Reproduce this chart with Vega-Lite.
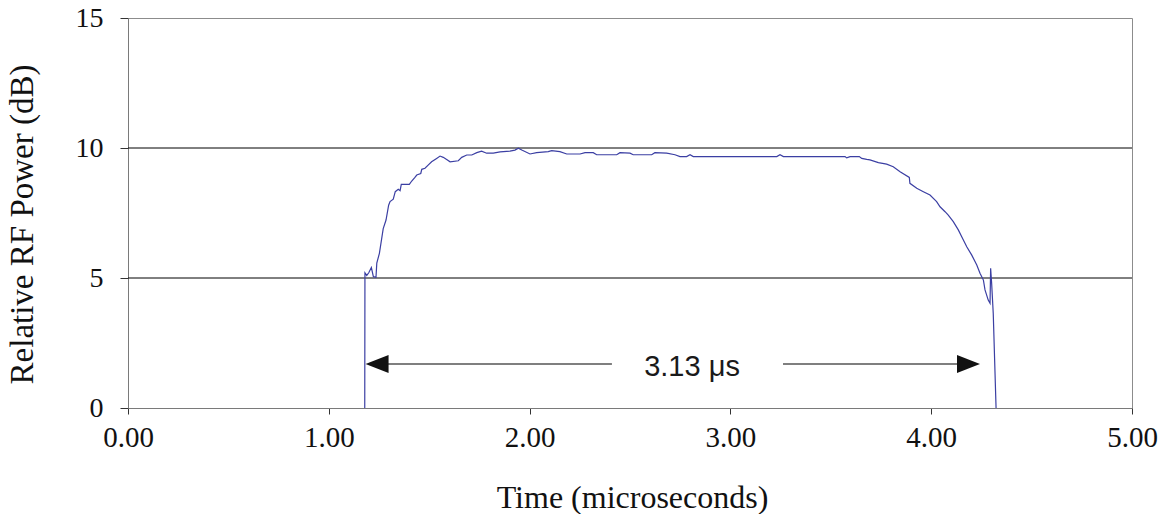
{
  "$schema": "https://vega.github.io/schema/vega-lite/v6.json",
  "width": 1004,
  "height": 390,
  "autosize": {"type": "none"},
  "padding": {"left": 128, "top": 18, "right": 31, "bottom": 106},
  "background": "white",
  "config": {
    "view": {"stroke": "#8c8c8c", "strokeWidth": 1},
    "axis": {
      "labelFont": "Liberation Serif",
      "titleFont": "Liberation Serif",
      "labelColor": "#111",
      "titleColor": "#111",
      "titleFontWeight": "normal",
      "domainColor": "#7a7a7a",
      "tickColor": "#333",
      "grid": false,
      "labelFlush": false,
      "labelOverlap": false
    }
  },
  "datasets": {
    "pulse": [
      {"i": 0, "t": 1.179, "p": 0},
      {"i": 1, "t": 1.18, "p": 5.2},
      {"i": 2, "t": 1.189, "p": 5.1},
      {"i": 3, "t": 1.199, "p": 5.2},
      {"i": 4, "t": 1.212, "p": 5.4},
      {"i": 5, "t": 1.222, "p": 5.05},
      {"i": 6, "t": 1.235, "p": 5.03},
      {"i": 7, "t": 1.239, "p": 5.57},
      {"i": 8, "t": 1.252, "p": 5.95},
      {"i": 9, "t": 1.271, "p": 6.9},
      {"i": 10, "t": 1.285, "p": 7.23},
      {"i": 11, "t": 1.298, "p": 7.8},
      {"i": 12, "t": 1.305, "p": 7.94},
      {"i": 13, "t": 1.321, "p": 8.03},
      {"i": 14, "t": 1.331, "p": 8.32},
      {"i": 15, "t": 1.346, "p": 8.41},
      {"i": 16, "t": 1.355, "p": 8.36},
      {"i": 17, "t": 1.361, "p": 8.6},
      {"i": 18, "t": 1.401, "p": 8.6},
      {"i": 19, "t": 1.413, "p": 8.73},
      {"i": 20, "t": 1.429, "p": 8.87},
      {"i": 21, "t": 1.438, "p": 8.96},
      {"i": 22, "t": 1.458, "p": 9.02},
      {"i": 23, "t": 1.463, "p": 9.18},
      {"i": 24, "t": 1.479, "p": 9.22},
      {"i": 25, "t": 1.496, "p": 9.35},
      {"i": 26, "t": 1.512, "p": 9.47},
      {"i": 27, "t": 1.537, "p": 9.6},
      {"i": 28, "t": 1.554, "p": 9.69},
      {"i": 29, "t": 1.57, "p": 9.64},
      {"i": 30, "t": 1.587, "p": 9.56},
      {"i": 31, "t": 1.604, "p": 9.47},
      {"i": 32, "t": 1.645, "p": 9.51},
      {"i": 33, "t": 1.662, "p": 9.64},
      {"i": 34, "t": 1.687, "p": 9.73},
      {"i": 35, "t": 1.712, "p": 9.73},
      {"i": 36, "t": 1.737, "p": 9.82},
      {"i": 37, "t": 1.761, "p": 9.88},
      {"i": 38, "t": 1.786, "p": 9.8},
      {"i": 39, "t": 1.819, "p": 9.8},
      {"i": 40, "t": 1.853, "p": 9.85},
      {"i": 41, "t": 1.902, "p": 9.88},
      {"i": 42, "t": 1.927, "p": 9.92},
      {"i": 43, "t": 1.944, "p": 9.99},
      {"i": 44, "t": 1.961, "p": 9.92},
      {"i": 45, "t": 2.002, "p": 9.77},
      {"i": 46, "t": 2.035, "p": 9.82},
      {"i": 47, "t": 2.093, "p": 9.86},
      {"i": 48, "t": 2.11, "p": 9.9},
      {"i": 49, "t": 2.151, "p": 9.86},
      {"i": 50, "t": 2.185, "p": 9.77},
      {"i": 51, "t": 2.251, "p": 9.77},
      {"i": 52, "t": 2.276, "p": 9.82},
      {"i": 53, "t": 2.317, "p": 9.82},
      {"i": 54, "t": 2.334, "p": 9.74},
      {"i": 55, "t": 2.434, "p": 9.74},
      {"i": 56, "t": 2.45, "p": 9.82},
      {"i": 57, "t": 2.5, "p": 9.8},
      {"i": 58, "t": 2.516, "p": 9.74},
      {"i": 59, "t": 2.608, "p": 9.74},
      {"i": 60, "t": 2.624, "p": 9.82},
      {"i": 61, "t": 2.683, "p": 9.8},
      {"i": 62, "t": 2.724, "p": 9.74},
      {"i": 63, "t": 2.749, "p": 9.67},
      {"i": 64, "t": 2.782, "p": 9.67},
      {"i": 65, "t": 2.799, "p": 9.74},
      {"i": 66, "t": 2.815, "p": 9.67},
      {"i": 67, "t": 3.231, "p": 9.67},
      {"i": 68, "t": 3.247, "p": 9.74},
      {"i": 69, "t": 3.264, "p": 9.67},
      {"i": 70, "t": 3.571, "p": 9.67},
      {"i": 71, "t": 3.579, "p": 9.62},
      {"i": 72, "t": 3.596, "p": 9.67},
      {"i": 73, "t": 3.642, "p": 9.67},
      {"i": 74, "t": 3.654, "p": 9.6},
      {"i": 75, "t": 3.679, "p": 9.56},
      {"i": 76, "t": 3.695, "p": 9.54},
      {"i": 77, "t": 3.737, "p": 9.44},
      {"i": 78, "t": 3.778, "p": 9.38},
      {"i": 79, "t": 3.811, "p": 9.28},
      {"i": 80, "t": 3.845, "p": 9.09},
      {"i": 81, "t": 3.891, "p": 8.87},
      {"i": 82, "t": 3.894, "p": 8.64},
      {"i": 83, "t": 3.928, "p": 8.45},
      {"i": 84, "t": 3.961, "p": 8.32},
      {"i": 85, "t": 3.994, "p": 8.19},
      {"i": 86, "t": 4.027, "p": 7.94},
      {"i": 87, "t": 4.044, "p": 7.74},
      {"i": 88, "t": 4.069, "p": 7.55},
      {"i": 89, "t": 4.085, "p": 7.42},
      {"i": 90, "t": 4.11, "p": 7.17},
      {"i": 91, "t": 4.135, "p": 6.85},
      {"i": 92, "t": 4.152, "p": 6.59},
      {"i": 93, "t": 4.177, "p": 6.2},
      {"i": 94, "t": 4.202, "p": 5.88},
      {"i": 95, "t": 4.227, "p": 5.5},
      {"i": 96, "t": 4.243, "p": 5.18},
      {"i": 97, "t": 4.26, "p": 4.92},
      {"i": 98, "t": 4.268, "p": 4.54},
      {"i": 99, "t": 4.284, "p": 4.15},
      {"i": 100, "t": 4.293, "p": 4.03},
      {"i": 101, "t": 4.296, "p": 5.37},
      {"i": 102, "t": 4.301, "p": 4.8},
      {"i": 103, "t": 4.309, "p": 3.64},
      {"i": 104, "t": 4.323, "p": 0}
    ],
    "grid": [{"p": 5}, {"p": 10}],
    "arrowLines": [
      {"t": 1.2, "t2": 2.41, "p": 1.69},
      {"t": 3.262, "t2": 4.22, "p": 1.69}
    ],
    "heads": [
      {"t": 1.183, "p": 1.69, "dir": "left"},
      {"t": 4.243, "p": 1.69, "dir": "right"}
    ],
    "label": [{"t": 2.809, "p": 1.58, "text": "3.13 μs"}]
  },
  "layer": [
    {
      "data": {"name": "grid"},
      "mark": {"type": "rule", "color": "#000000", "strokeWidth": 1},
      "encoding": {
        "y": {
          "field": "p",
          "type": "quantitative",
          "scale": {"domain": [0, 15], "nice": false},
          "axis": {
            "title": "Relative RF Power (dB)",
            "values": [0, 5, 10, 15],
            "labelFontSize": 28,
            "labelPadding": 17,
            "tickSize": 8,
            "titleFontSize": 33,
            "titleAngle": -90,
            "titleAlign": "center",
            "titleBaseline": "alphabetic",
            "titleX": -96,
            "titleY": 206
          }
        }
      }
    },
    {
      "data": {"name": "pulse"},
      "mark": {"type": "line", "color": "#3b3fa3", "strokeWidth": 1.2, "interpolate": "linear"},
      "encoding": {
        "x": {
          "field": "t",
          "type": "quantitative",
          "scale": {"domain": [0, 5], "nice": false},
          "axis": {
            "title": "Time (microseconds)",
            "values": [0, 1, 2, 3, 4, 5],
            "format": ".2f",
            "labelFontSize": 29,
            "labelPadding": 9,
            "tickSize": 6,
            "titleFontSize": 32,
            "titleBaseline": "alphabetic",
            "titleAnchor": "middle",
            "titleX": 504,
            "titleY": 99
          }
        },
        "y": {"field": "p", "type": "quantitative"},
        "order": {"field": "i", "type": "quantitative"}
      }
    },
    {
      "data": {"name": "arrowLines"},
      "mark": {"type": "rule", "color": "#555", "strokeWidth": 1.5},
      "encoding": {
        "x": {"field": "t", "type": "quantitative"},
        "x2": {"field": "t2"},
        "y": {"field": "p", "type": "quantitative"}
      }
    },
    {
      "data": {"name": "heads"},
      "mark": {"type": "point", "filled": true, "color": "#111", "opacity": 1, "size": 529, "strokeWidth": 0},
      "encoding": {
        "x": {"field": "t", "type": "quantitative"},
        "y": {"field": "p", "type": "quantitative"},
        "shape": {
          "field": "dir",
          "type": "nominal",
          "scale": {"domain": ["left", "right"], "range": ["M0,0L2,-0.78L2,0.78Z", "M0,0L-2,-0.78L-2,0.78Z"]},
          "legend": null
        }
      }
    },
    {
      "data": {"name": "label"},
      "mark": {"type": "text", "font": "Liberation Sans", "fontSize": 29, "color": "#1a1a1a", "align": "center", "baseline": "middle"},
      "encoding": {
        "x": {"field": "t", "type": "quantitative"},
        "y": {"field": "p", "type": "quantitative"},
        "text": {"field": "text"}
      }
    }
  ]
}
